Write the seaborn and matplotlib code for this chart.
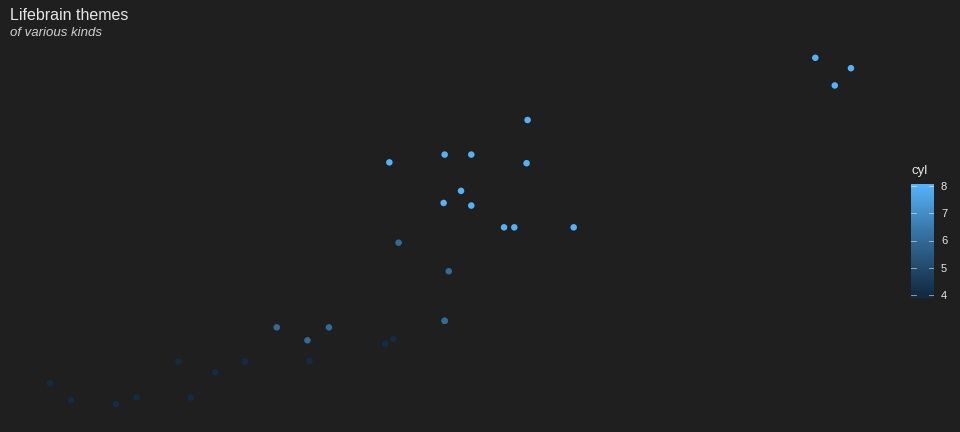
import matplotlib
matplotlib.use("Agg")
import matplotlib.pyplot as plt
import seaborn as sns
import numpy as np
import pandas as pd
from matplotlib.colors import LinearSegmentedColormap, Normalize

# mtcars: weight, displacement, cylinders
wt = [2.620, 2.875, 2.320, 3.215, 3.440, 3.460, 3.570, 3.190, 3.150, 3.440, 3.440,
      4.070, 3.730, 3.780, 5.250, 5.424, 5.345, 2.200, 1.615, 1.835, 2.465, 3.520,
      3.435, 3.840, 3.845, 1.935, 2.140, 1.513, 3.170, 2.770, 3.570, 2.780]
disp = [160.0, 160.0, 108.0, 258.0, 360.0, 225.0, 360.0, 146.7, 140.8, 167.6, 167.6,
        275.8, 275.8, 275.8, 472.0, 460.0, 440.0, 78.7, 75.7, 71.1, 120.1, 318.0,
        304.0, 350.0, 400.0, 79.0, 120.3, 95.1, 351.0, 145.0, 301.0, 121.0]
cyl = [6, 6, 4, 6, 8, 6, 8, 4, 4, 6, 6, 8, 8, 8, 8, 8, 8, 4, 4, 4, 4, 8, 8, 8, 8,
       4, 4, 4, 8, 6, 8, 4]
cyl_ticks = [4, 5, 6, 7, 8]

df = pd.DataFrame({"wt": wt, "disp": disp, "cyl": cyl})

bg = "#1f1f1f"
txt = "#e6e6e6"
cmap = LinearSegmentedColormap.from_list("gg", ["#132B43", "#336A98", "#56B1F7"])
norm = Normalize(vmin=4, vmax=8)

plt.rcParams["font.family"] = ["Liberation Sans", "DejaVu Sans"]

fig = plt.figure(figsize=(9.6, 4.32), dpi=100, facecolor=bg)
W, H = 960, 432
ax = fig.add_axes([10 / W, 10.5 / H, 881 / W, 381 / H])
ax.set_facecolor(bg)

sns.scatterplot(data=df, x="wt", y="disp", hue="cyl", palette=cmap, hue_norm=norm,
                s=22, linewidth=0, legend=False, ax=ax)

# ggplot-like 5% expansion
xr = max(wt) - min(wt)
yr = max(disp) - min(disp)
ax.set_xlim(min(wt) - 0.05 * xr, max(wt) + 0.05 * xr)
ax.set_ylim(min(disp) - 0.05 * yr, max(disp) + 0.05 * yr)
ax.set_axis_off()

fig.text(10 / W, 1 - 15.5 / H, "Lifebrain themes", color=txt, fontsize=11.5, va="center")
fig.text(10 / W, 1 - 33.5 / H, "of various kinds", color="#cfcfcf", fontsize=9.5,
         style="italic", va="center")

# colourbar legend
lo, hi = 3.9, 8.1
cax = fig.add_axes([911 / W, (H - 297.5) / H, 23 / W, 114 / H])
cax.set_facecolor("#132B43")
grad = np.clip(np.linspace(lo, hi, 200), 4, 8)[:, None]
cax.imshow(grad, cmap=cmap, norm=norm, aspect="auto", origin="lower",
           extent=[0, 1, lo, hi])
cax.set_xlim(0, 1)
cax.set_ylim(lo, hi)
cax.set_xticks([])
cax.yaxis.tick_right()
cax.set_yticks(cyl_ticks)
cax.tick_params(axis="y", length=0, labelsize=8, labelcolor=txt, pad=5)
for s in cax.spines.values():
    s.set_visible(False)
for v in cyl_ticks:
    cax.plot([0, 0.2], [v, v], color="white", lw=0.6, alpha=0.6)
    cax.plot([0.8, 1.0], [v, v], color="white", lw=0.6, alpha=0.6)
fig.text(911 / W, 1 - 171 / H, "cyl", color=txt, fontsize=9.5, va="center")

fig.savefig("out.png", dpi=100, facecolor=bg)
